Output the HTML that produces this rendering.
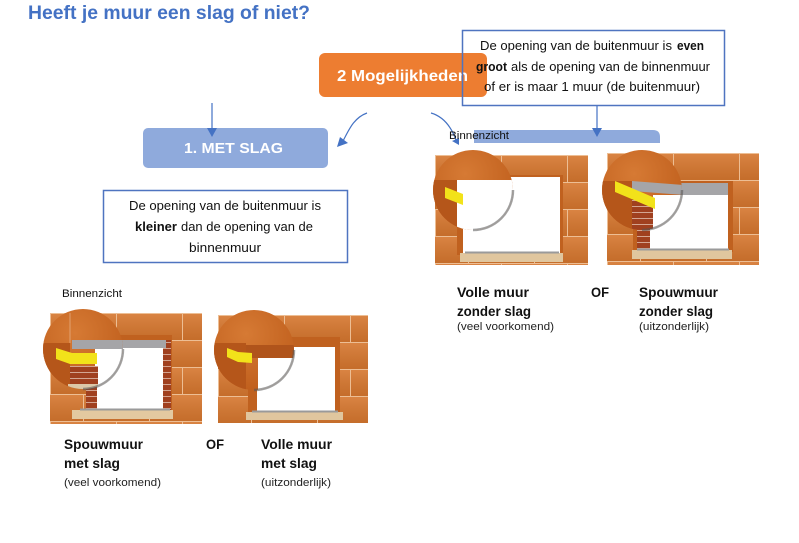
<!DOCTYPE html>
<html>
<head>
<meta charset="utf-8">
<style>
html,body{margin:0;padding:0;background:#fff;}
svg{display:block;}
text{font-family:"Liberation Sans",sans-serif;}
</style>
</head>
<body>
<svg width="799" height="543" viewBox="0 0 799 543" xmlns="http://www.w3.org/2000/svg">
<defs>
  <linearGradient id="shade" x1="0" y1="0" x2="0" y2="1">
    <stop offset="0" stop-color="#fff" stop-opacity="0.10"/>
    <stop offset="1" stop-color="#000" stop-opacity="0.08"/>
  </linearGradient>
  <pattern id="br" width="66" height="54" patternUnits="userSpaceOnUse">
    <rect width="66" height="54" fill="#D6772F"/>
    <rect width="66" height="27" fill="url(#shade)"/>
    <rect y="27" width="66" height="27" fill="url(#shade)"/>
    <path d="M0 0.5H66 M0 27.5H66 M0.5 0V27 M33.5 27V54" stroke="#EDBE94" stroke-width="1" fill="none"/>
  </pattern>
  <pattern id="rb" width="10" height="6" patternUnits="userSpaceOnUse">
    <rect width="10" height="6" fill="#A0401F"/>
    <path d="M0 5.5H10" stroke="#E2BFAE" stroke-width="0.8"/>
  </pattern>
  <radialGradient id="cg" cx="0.4" cy="0.3" r="0.75">
    <stop offset="0" stop-color="#D67A34"/>
    <stop offset="1" stop-color="#BF5E1C"/>
  </radialGradient>
  <clipPath id="cA"><circle cx="33" cy="36" r="40"/></clipPath>
  <clipPath id="cB"><circle cx="36" cy="35" r="40"/></clipPath>
  <clipPath id="cC"><circle cx="38" cy="35" r="40"/></clipPath>
  <clipPath id="cD"><circle cx="35" cy="37" r="40"/></clipPath>
</defs>

<!-- Title -->
<text x="28" y="19" font-size="19" font-weight="bold" fill="#4472C4" textLength="282" lengthAdjust="spacingAndGlyphs">Heeft je muur een slag of niet?</text>

<!-- Orange box -->
<rect x="319" y="53" width="168" height="44" rx="6" fill="#ED7D31"/>
<text x="337" y="81" font-size="16" font-weight="bold" fill="#fff" textLength="131" lengthAdjust="spacingAndGlyphs">2 Mogelijkheden</text>

<!-- Right text box -->
<rect x="462.5" y="30.5" width="262" height="75" fill="none" stroke="#4F74C0" stroke-width="1.5"/>
<text x="480" y="50" font-size="13" fill="#111" textLength="192" lengthAdjust="spacingAndGlyphs">De opening van de buitenmuur is</text>
<text x="677" y="50" font-size="13" font-weight="bold" fill="#111" textLength="27" lengthAdjust="spacingAndGlyphs">even</text>
<text x="476" y="71" font-size="13" font-weight="bold" fill="#111" textLength="31" lengthAdjust="spacingAndGlyphs">groot</text>
<text x="511" y="71" font-size="13" fill="#111" textLength="199" lengthAdjust="spacingAndGlyphs">als de opening van de binnenmuur</text>
<text x="484" y="91" font-size="13" fill="#111" textLength="216" lengthAdjust="spacingAndGlyphs">of er is maar 1 muur (de buitenmuur)</text>

<!-- 1. MET SLAG box -->
<rect x="143" y="128" width="185" height="40" rx="5" fill="#8FAADC"/>
<text x="184" y="153" font-size="15" font-weight="bold" fill="#fff" textLength="99" lengthAdjust="spacingAndGlyphs">1. MET SLAG</text>

<!-- left down arrow -->
<line x1="212" y1="103" x2="212" y2="130" stroke="#4472C4" stroke-width="1.2"/>
<polygon points="207,128 217,128 212,137" fill="#4472C4"/>

<!-- left curved arrow -->
<path d="M367 113 C353 118 348 132 343 141" fill="none" stroke="#4472C4" stroke-width="1.2"/>
<polygon points="337,147 340,137 348,143" fill="#4472C4"/>

<!-- right curved arrow -->
<path d="M431 113 C445 117 452 129 456 140" fill="none" stroke="#4472C4" stroke-width="1.2"/>
<polygon points="459,145 452,141 459,138" fill="#4472C4"/>

<!-- right blue bar -->
<path d="M474 130 H653 Q660 130 660 137 V143 H474 Z" fill="#8FAADC"/>

<!-- right down arrow -->
<line x1="597" y1="106" x2="597" y2="130" stroke="#4472C4" stroke-width="1.2"/>
<polygon points="592,128 602,128 597,137" fill="#4472C4"/>

<text x="449" y="139" font-size="11" fill="#111" textLength="60" lengthAdjust="spacingAndGlyphs">Binnenzicht</text>

<!-- Left text box -->
<rect x="103.5" y="190.5" width="244" height="72" fill="none" stroke="#4F74C0" stroke-width="1.5"/>
<text x="129" y="210" font-size="13" fill="#111" textLength="192" lengthAdjust="spacingAndGlyphs">De opening van de buitenmuur is</text>
<text x="135" y="231" font-size="13" font-weight="bold" fill="#111" textLength="42" lengthAdjust="spacingAndGlyphs">kleiner</text>
<text x="181" y="231" font-size="13" fill="#111" textLength="132" lengthAdjust="spacingAndGlyphs">dan de opening van de</text>
<text x="189" y="252" font-size="13" fill="#111" textLength="72" lengthAdjust="spacingAndGlyphs">binnenmuur</text>

<text x="62" y="297" font-size="11" fill="#111" textLength="60" lengthAdjust="spacingAndGlyphs">Binnenzicht</text>

<!-- Image A: Spouwmuur met slag -->
<svg x="50" y="313" width="152" height="111" viewBox="0 0 152 111" overflow="visible">
  <rect width="152" height="111" fill="url(#br)"/>
  <rect x="38" y="22" width="84" height="76" fill="#C0611F"/>
  <rect x="113" y="27" width="8" height="70" fill="url(#rb)"/>
  <rect x="36" y="60" width="12" height="36" fill="url(#rb)"/>
  <rect x="44" y="27" width="72" height="8" fill="#A5A5A8"/>
  <rect x="47" y="35" width="66" height="61" fill="#fff"/>
  <rect x="22" y="97" width="101" height="9" fill="#E3C9A0"/>
  <rect x="30" y="95.5" width="90" height="2" fill="#9A9A9A"/>
  <circle cx="33" cy="36" r="40" fill="url(#cg)"/>
  <g clip-path="url(#cA)">
    <path d="M-7 30 H20 V80 H-7 Z" fill="#B5561A"/>
    <path d="M20 0 V30" stroke="#E5AD80" stroke-width="0.8"/>
    <rect x="22" y="27" width="55" height="9" fill="#A5A5A8"/>
    <rect x="45" y="36" width="32" height="42" fill="#fff"/>
    <rect x="20" y="53" width="28" height="18" fill="url(#rb)"/>
    <rect x="18" y="71" width="30" height="5" fill="#DCC7A8"/>
    <polygon points="6,35 22,40 47,40 47,51 20,51 6,46" fill="#F2E21A"/>
  </g>
  <path d="M73 36 A40 40 0 0 1 33 76" fill="none" stroke="#555" stroke-opacity="0.55" stroke-width="2.5"/>
</svg>

<!-- Image B: Volle muur met slag -->
<svg x="218" y="315" width="150" height="108" viewBox="0 0 150 108" overflow="visible">
  <rect width="150" height="108" fill="url(#br)"/>
  <rect x="30" y="22" width="92" height="77" fill="#C0611F"/>
  <rect x="39" y="32" width="78" height="65" fill="#fff"/>
  <rect x="28" y="97" width="97" height="8" fill="#E0C69E"/>
  <rect x="34" y="95.5" width="86" height="2" fill="#9A9A9A"/>
  <circle cx="36" cy="35" r="40" fill="url(#cg)"/>
  <g clip-path="url(#cB)">
    <path d="M-4 28 H28 V80 H-4 Z" fill="#B5561A"/>
    <rect x="28" y="30" width="50" height="13" fill="#B0541B"/>
    <rect x="40" y="43" width="38" height="35" fill="#fff"/>
    <polygon points="9,33 20,37 34,38 34,48 20,47 9,42" fill="#F2E21A"/>
  </g>
  <path d="M76 35 A40 40 0 0 1 36 75" fill="none" stroke="#555" stroke-opacity="0.55" stroke-width="2.5"/>
</svg>

<!-- Image C: Volle muur zonder slag -->
<svg x="435" y="155" width="153" height="110" viewBox="0 0 153 110" overflow="visible">
  <rect width="153" height="110" fill="url(#br)"/>
  <rect x="22" y="20" width="106" height="80" fill="#C0611F"/>
  <rect x="28" y="22" width="97" height="76" fill="#fff"/>
  <rect x="25" y="98" width="103" height="9" fill="#E0C69E"/>
  <rect x="30" y="96.5" width="94" height="2" fill="#9A9A9A"/>
  <circle cx="38" cy="35" r="40" fill="url(#cg)"/>
  <g clip-path="url(#cC)">
    <path d="M-2 25 H22 V80 H-2 Z" fill="#B5561A"/>
    <rect x="22" y="25" width="56" height="52" fill="#fff"/>
    <polygon points="10,32 28,39 28,50 10,43" fill="#F2E21A"/>
  </g>
  <path d="M78 35 A40 40 0 0 1 38 75" fill="none" stroke="#555" stroke-opacity="0.55" stroke-width="2.5"/>
</svg>

<!-- Image D: Spouwmuur zonder slag -->
<svg x="607" y="153" width="152" height="112" viewBox="0 0 152 112" overflow="visible">
  <rect width="152" height="112" fill="url(#br)"/>
  <rect x="26" y="28" width="100" height="71" fill="#C0611F"/>
  <rect x="30" y="42" width="13" height="55" fill="url(#rb)"/>
  <rect x="46" y="30" width="75" height="12" fill="#A5A5A8"/>
  <rect x="43" y="42" width="78" height="55" fill="#fff"/>
  <rect x="25" y="97" width="100" height="9" fill="#E0C69E"/>
  <rect x="30" y="95.5" width="92" height="2" fill="#9A9A9A"/>
  <circle cx="35" cy="37" r="40" fill="url(#cg)"/>
  <g clip-path="url(#cD)">
    <path d="M-5 28 H25 V80 H-5 Z" fill="#B5561A"/>
    <polygon points="25,28 76,32 76,42 25,38" fill="#A5A5A8"/>
    <rect x="25" y="45" width="21" height="35" fill="url(#rb)"/>
    <rect x="46" y="42" width="30" height="36" fill="#fff"/>
    <polygon points="8,28 48,45 48,56 8,39" fill="#F2E21A"/>
  </g>
  <path d="M75 37 A40 40 0 0 1 35 77" fill="none" stroke="#555" stroke-opacity="0.55" stroke-width="2.5"/>
</svg>

<!-- Right labels -->
<text x="457" y="297" font-size="14" font-weight="bold" fill="#111" textLength="72" lengthAdjust="spacingAndGlyphs">Volle muur</text>
<text x="457" y="316" font-size="14" font-weight="bold" fill="#111" textLength="74" lengthAdjust="spacingAndGlyphs">zonder slag</text>
<text x="457" y="330" font-size="11" fill="#222" textLength="97" lengthAdjust="spacingAndGlyphs">(veel voorkomend)</text>
<text x="591" y="297" font-size="14" font-weight="bold" fill="#111" textLength="18" lengthAdjust="spacingAndGlyphs">OF</text>
<text x="639" y="297" font-size="14" font-weight="bold" fill="#111" textLength="79" lengthAdjust="spacingAndGlyphs">Spouwmuur</text>
<text x="639" y="316" font-size="14" font-weight="bold" fill="#111" textLength="74" lengthAdjust="spacingAndGlyphs">zonder slag</text>
<text x="639" y="330" font-size="11" fill="#222" textLength="70" lengthAdjust="spacingAndGlyphs">(uitzonderlijk)</text>

<!-- Left labels -->
<text x="64" y="449" font-size="14" font-weight="bold" fill="#111" textLength="79" lengthAdjust="spacingAndGlyphs">Spouwmuur</text>
<text x="64" y="468" font-size="14" font-weight="bold" fill="#111" textLength="56" lengthAdjust="spacingAndGlyphs">met slag</text>
<text x="64" y="486" font-size="11" fill="#222" textLength="97" lengthAdjust="spacingAndGlyphs">(veel voorkomend)</text>
<text x="206" y="449" font-size="14" font-weight="bold" fill="#111" textLength="18" lengthAdjust="spacingAndGlyphs">OF</text>
<text x="261" y="449" font-size="14" font-weight="bold" fill="#111" textLength="71" lengthAdjust="spacingAndGlyphs">Volle muur</text>
<text x="261" y="468" font-size="14" font-weight="bold" fill="#111" textLength="56" lengthAdjust="spacingAndGlyphs">met slag</text>
<text x="261" y="486" font-size="11" fill="#222" textLength="70" lengthAdjust="spacingAndGlyphs">(uitzonderlijk)</text>
</svg>
</body>
</html>
